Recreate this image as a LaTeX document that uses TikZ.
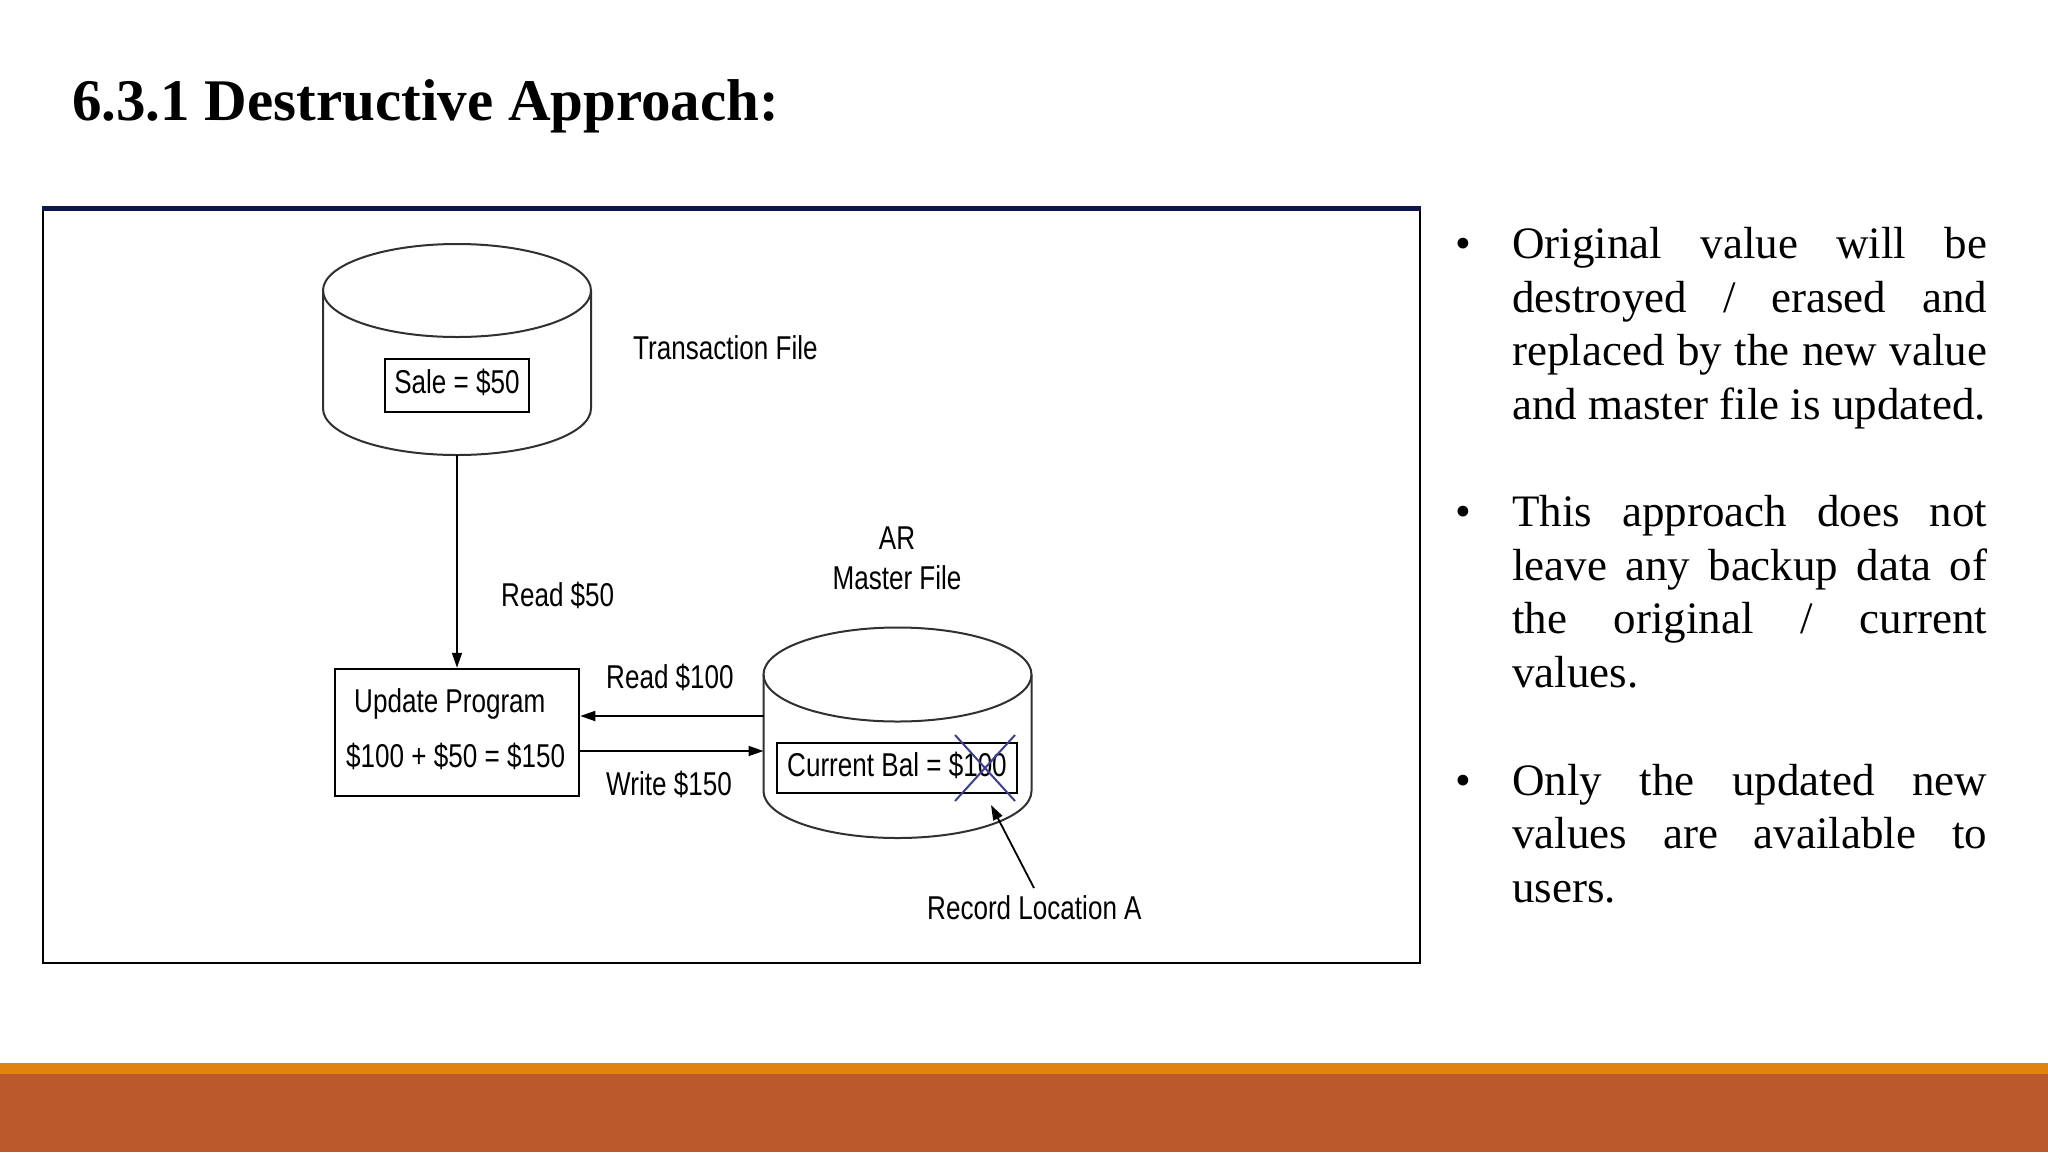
\documentclass[tikz,border=0pt]{standalone}
\usepackage{fontspec}
\setmainfont{Liberation Serif}
\newfontfamily\dsans{Liberation Sans}
\usepackage{graphicx}
\usetikzlibrary{arrows.meta,calc}
\definecolor{navyline}{HTML}{0E1650}
\definecolor{barorange}{HTML}{E1830F}
\definecolor{barrust}{HTML}{BB592C}
\definecolor{crossblue}{HTML}{3F3F8F}
\definecolor{cyl}{HTML}{303030}
\newcommand\dt[1]{{\dsans\fontsize{33}{36}\selectfont\scalebox{0.79}[1]{#1}}}
\newcommand\bt{\fontsize{45}{52}\selectfont}
\begin{document}
\begin{tikzpicture}[x=1pt,y=-1pt,
  arr/.style={draw=black,line width=1.8pt,-{Triangle[length=15pt,width=10pt]}},
  databox/.style={draw=black,line width=2.5pt,inner sep=0pt,text height=20pt,text depth=4pt},
  cylline/.style={draw=cyl,line width=2pt},
  holder/.style={inner sep=0pt,outer sep=0pt},
  lab/.style={inner sep=0pt,anchor=base west},
  clab/.style={inner sep=0pt,anchor=base},
  bl/.style={inner sep=0pt,anchor=base west,font=\bt},
  bul/.style={inner sep=0pt,anchor=base,font=\bt},
]
\useasboundingbox (0,0) rectangle (2048,1152);
\fill[white] (0,0) rectangle (2048,1152);

% title
\node[lab,font=\fontsize{59}{70}\selectfont\bfseries] (title) at (72,120) {6.3.1 Destructive Approach:};

% frame
\draw[black,line width=2pt] (43,209) -- (43,963) -- (1420,963) -- (1420,209);
\draw[navyline,line width=5pt] (42,208.5) -- (1421,208.5);

% transaction file cylinder
\node[holder,minimum width=268pt,minimum height=211pt] (tf) at (457,349.5) {};
\draw[cylline] (457,290.5) ellipse [x radius=134pt,y radius=46.5pt];
\draw[cylline] (323,290.5) -- (323,408.5) arc[start angle=180,end angle=360,x radius=134pt,y radius=46.5pt] -- (591,290.5);
\node[databox,minimum width=144pt,minimum height=53pt] (sale) at (457,385.5) {\dt{Sale = \$50}};
\node[lab] (tflab) at (633,359) {\dt{Transaction File}};

% master file cylinder
\node[holder,minimum width=268pt,minimum height=211pt] (mf) at (897.5,732.5) {};
\draw[cylline] (897.5,674.5) ellipse [x radius=134pt,y radius=47pt];
\draw[cylline] (763.5,674.5) -- (763.5,791) arc[start angle=180,end angle=360,x radius=134pt,y radius=47pt] -- (1031.5,674.5);
\node[databox,minimum width=240pt,minimum height=50pt] (cb) at (897,768) {\dt{Current Bal = \$100}};
\node[clab] (ar) at (897,549) {\dt{AR}};
\node[clab] (mflab) at (897,589) {\dt{Master File}};
\draw[crossblue,line width=2pt] (955,735) -- (1015,801) (1015,735) -- (955,801);

% update program
\node[draw=black,line width=2.5pt,inner sep=0pt,minimum width=244pt,minimum height=127pt] (up) at (457,732.5) {};
\node[lab] (uplab) at (354,712) {\dt{Update Program}};
\node[lab] (calc) at (346,767) {\dt{\$100 + \$50 = \$150}};

% connectors
\draw[arr] (tf.south) -- (up.north);
\node[lab] (r50) at (501,606) {\dt{Read \$50}};
\draw[arr] ([yshift=16.5pt]mf.west) -- ([yshift=16.5pt]up.east);
\node[lab] (r100) at (606,688) {\dt{Read \$100}};
\draw[arr] ([yshift=-18.5pt]up.east) -- ([yshift=-18.5pt]mf.west);
\node[lab] (w150) at (606,795) {\dt{Write \$150}};

\coordinate (rlt) at (1034,888);
\coordinate (rlh) at (991,805);
\draw[arr] (rlt) -- (rlh);
\node[lab] (rec) at (927,919) {\dt{Record Location A}};

% bullets text
\node[bul] (b1) at (1463,258) {•};
\node[bl] (l1) at (1512,258) {\makebox[475pt][s]{Original value will be}};
\node[bl] (l2) at (1512,312) {\makebox[475pt][s]{destroyed / erased and}};
\node[bl] (l3) at (1512,365) {\makebox[475pt][s]{replaced by the new value}};
\node[bl] (l4) at (1512,419) {and master file is updated.};
\node[bul] (b2) at (1463,526) {•};
\node[bl] (l5) at (1512,526) {\makebox[475pt][s]{This approach does not}};
\node[bl] (l6) at (1512,580) {\makebox[475pt][s]{leave any backup data of}};
\node[bl] (l7) at (1512,633) {\makebox[475pt][s]{the original / current}};
\node[bl] (l8) at (1512,687) {values.};
\node[bul] (b3) at (1463,795) {•};
\node[bl] (l9) at (1512,795) {\makebox[475pt][s]{Only the updated new}};
\node[bl] (l10) at (1512,848) {\makebox[475pt][s]{values are available to}};
\node[bl] (l11) at (1512,902) {users.};

% bottom bars
\fill[barorange] (0,1063) rectangle (2048,1074);
\fill[barrust] (0,1074) rectangle (2048,1152);
\end{tikzpicture}
\end{document}
